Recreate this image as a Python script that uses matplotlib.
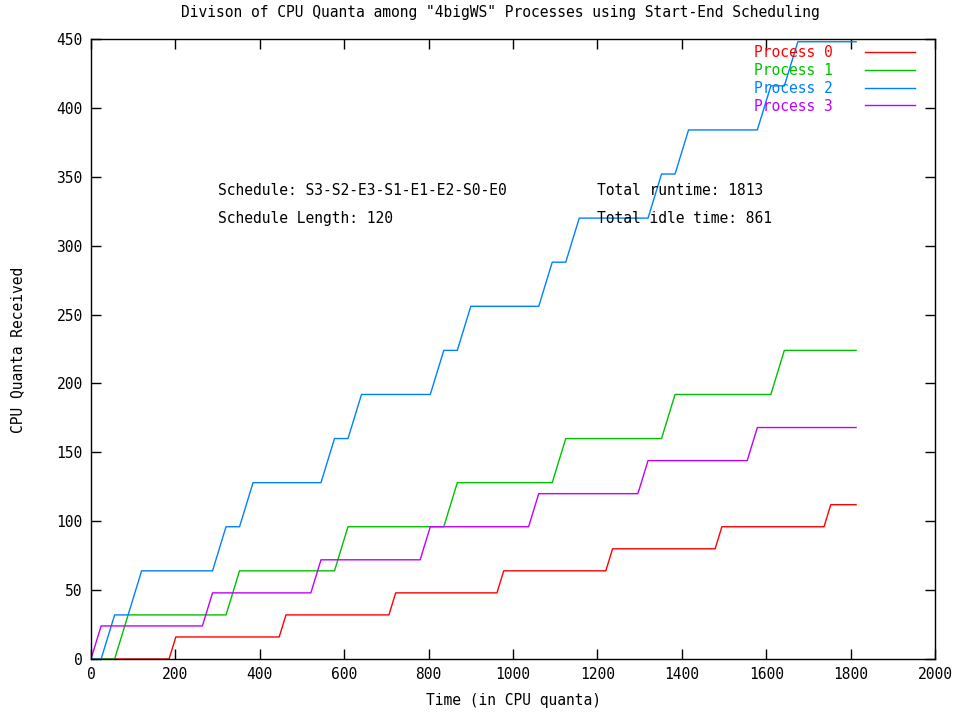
import matplotlib
matplotlib.use("Agg")
import matplotlib.pyplot as plt

# ---- data ----
p0_t = [0, 185, 201, 446, 462, 706, 722, 962, 978, 1220, 1236, 1479, 1495, 1737, 1753, 1813]
p0_q = [0, 0, 16, 16, 32, 32, 48, 48, 64, 64, 80, 80, 96, 96, 112, 112]

p1_t = [0, 56, 88, 320, 352, 577, 609, 836, 868, 1093, 1125, 1352, 1384, 1611, 1643, 1813]
p1_q = [0, 0, 32, 32, 64, 64, 96, 96, 128, 128, 160, 160, 192, 192, 224, 224]

p2_t = [0, 24, 56, 88, 120, 288, 320, 352, 384, 545, 577, 609, 641, 804, 836, 868, 900,
        1061, 1093, 1125, 1157, 1320, 1352, 1384, 1416, 1579, 1611, 1643, 1675, 1813]
p2_q = [0, 0, 32, 32, 64, 64, 96, 96, 128, 128, 160, 160, 192, 192, 224, 224, 256,
        256, 288, 288, 320, 320, 352, 352, 384, 384, 416, 416, 448, 448]

p3_t = [0, 24, 264, 288, 521, 545, 780, 804, 1037, 1061, 1296, 1320, 1555, 1579, 1813]
p3_q = [0, 24, 24, 48, 48, 72, 72, 96, 96, 120, 120, 144, 144, 168, 168]

labels = ["Process 0", "Process 1", "Process 2", "Process 3"]
colors = ["#ff0000", "#00c000", "#0080ff", "#c000ff"]

x_ticks = [0, 200, 400, 600, 800, 1000, 1200, 1400, 1600, 1800, 2000]
y_ticks = [0, 50, 100, 150, 200, 250, 300, 350, 400, 450]

title = 'Divison of CPU Quanta among "4bigWS" Processes using Start-End Scheduling'
xlabel = "Time (in CPU quanta)"
ylabel = "CPU Quanta Received"
notes = [(300, 340, "Schedule: S3-S2-E3-S1-E1-E2-S0-E0"),
         (300, 320, "Schedule Length: 120"),
         (1200, 340, "Total runtime: 1813"),
         (1200, 320, "Total idle time: 861")]

# ---- drawing ----
plt.rcParams['font.family'] = ['DejaVu Sans Mono']
FS = 10.5

W, H = 966, 712
fig = plt.figure(figsize=(W / 100, H / 100), dpi=100)
ax = fig.add_axes([91 / W, 1 - 659 / H, (935 - 91) / W, (659 - 39) / H])

series = [(p0_t, p0_q), (p1_t, p1_q), (p2_t, p2_q), (p3_t, p3_q)]
for (t, q), lab, col in zip(series, labels, colors):
    ax.plot(t, q, color=col, lw=1.0, label=lab)

ax.set_xlim(0, 2000)
ax.set_ylim(0, 450)
ax.set_xticks(x_ticks)
ax.set_yticks(y_ticks)
ax.tick_params(direction="in", length=7, width=1, top=True, right=True,
               labelsize=FS, pad=6, colors="black")
for s in ax.spines.values():
    s.set_linewidth(1.0)
    s.set_color("black")

for x, y, s in notes:
    ax.text(x, y, s, fontsize=FS, ha="left", va="center", color="black")

fig.text(500 / W, 1 - 13 / H, title, ha="center", va="center", fontsize=FS)
fig.text(513 / W, 1 - 700 / H, xlabel, ha="center", va="center", fontsize=FS)
fig.text(18 / W, 1 - 350 / H, ylabel, ha="center", va="center", rotation=90, fontsize=FS)

leg = ax.legend(loc="upper right", bbox_to_anchor=(0.983, 1.0), frameon=False,
                markerfirst=False, fontsize=FS, labelcolor="linecolor",
                handlelength=3.4, handletextpad=2.2, labelspacing=0.2,
                borderaxespad=0.0)

fig.savefig("out.png", dpi=100)
